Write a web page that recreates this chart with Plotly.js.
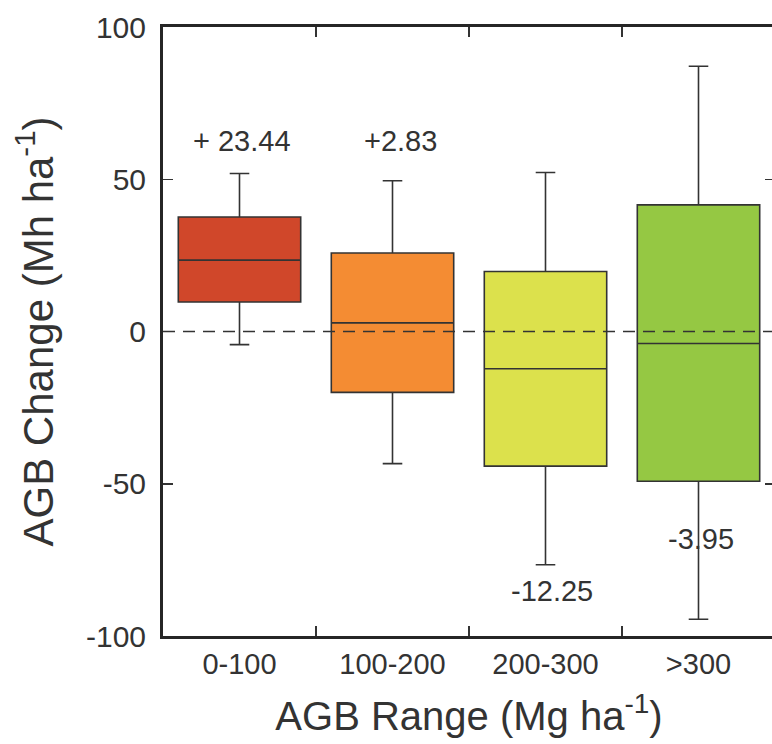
<!DOCTYPE html>
<html>
<head>
<meta charset="utf-8">
<script src="https://cdn.plot.ly/plotly-3.0.1.min.js"></script>
<style>
html, body { margin: 0; padding: 0; overflow: hidden; background: #fff; }
#chart { width: 776px; height: 744px; }
</style>
</head>
<body>
<div id="chart"></div>
<script>
const categories = ['0-100', '100-200', '200-300', '>300'];
const q1 = [9.7, -20.0, -44.2, -49.2];
const medians = [23.44, 2.83, -12.25, -3.95];
const q3 = [37.6, 25.8, 19.7, 41.6];
const lowerWhisker = [-4.3, -43.4, -76.6, -94.5];
const upperWhisker = [51.9, 49.5, 52.2, 87.1];
const medianLabels = ['+ 23.44', '+2.83', '-12.25', '-3.95'];
const labelY = [62.4, 62.4, -85.2, -68.1];
const boxColors = ['#D0472A', '#F48C33', '#DCE14C', '#95C843'];
const labelShift = [2, 8, 6, 2];
const yTickValues = [-100, -50, 0, 50, 100];
const yTickLabels = ['-100', '-50', '0', '50', '100'];

const FONT = 'Liberation Sans, Arial, Helvetica, sans-serif';
const INK = '#333333';

const traces = categories.map((c, i) => ({
  type: 'box',
  x: [c],
  q1: [q1[i]],
  median: [medians[i]],
  q3: [q3[i]],
  lowerfence: [lowerWhisker[i]],
  upperfence: [upperWhisker[i]],
  width: 0.8,
  whiskerwidth: 0.16,
  fillcolor: boxColors[i],
  line: { color: '#333333', width: 1.6 },
  boxpoints: false,
  hoverinfo: 'skip',
  showlegend: false
}));

const annotations = categories.map((c, i) => ({
  x: c, y: labelY[i], xref: 'x', yref: 'y',
  text: medianLabels[i], showarrow: false,
  xshift: labelShift[i],
  font: { family: FONT, size: 29, color: INK }
}));

const axisCommon = {
  showline: true, linewidth: 3, linecolor: '#262626', mirror: 'ticks',
  ticks: 'inside', ticklen: 10, tickwidth: 1.5, tickcolor: '#333333',
  showgrid: false, zeroline: false,
  tickfont: { family: FONT, size: 29, color: INK }
};

const layout = {
  width: 776, height: 744,
  margin: { l: 163, r: 1, t: 27, b: 108 },
  paper_bgcolor: '#ffffff', plot_bgcolor: '#ffffff',
  boxmode: 'overlay',
  font: { family: FONT, color: INK },
  xaxis: Object.assign({}, axisCommon, {
    type: 'category', range: [-0.5, 3.5], tickson: 'boundaries',
    ticklabelstandoff: 0,
    title: { text: 'AGB Range (Mg ha<sup>-1</sup>)' + '\u00A0'.repeat(5), font: { family: FONT, size: 40, color: INK }, standoff: 24 }
  }),
  yaxis: Object.assign({}, axisCommon, {
    range: [-100, 100], tickvals: yTickValues, ticktext: yTickLabels,
    tickfont: { family: FONT, size: 30, color: INK },
    ticklabelstandoff: 8,
    title: { text: 'AGB Change (Mh ha<sup>-1</sup>)', font: { family: FONT, size: 42, color: INK }, standoff: 20 }
  }),
  shapes: [{
    type: 'line', xref: 'paper', yref: 'y', x0: 0, x1: 1, y0: 0, y1: 0,
    line: { color: '#333333', width: 1.5, dash: '12px,8px' }, layer: 'above'
  }],
  annotations: annotations
};

Plotly.newPlot('chart', traces, layout, { displayModeBar: false, staticPlot: true });
</script>
</body>
</html>
